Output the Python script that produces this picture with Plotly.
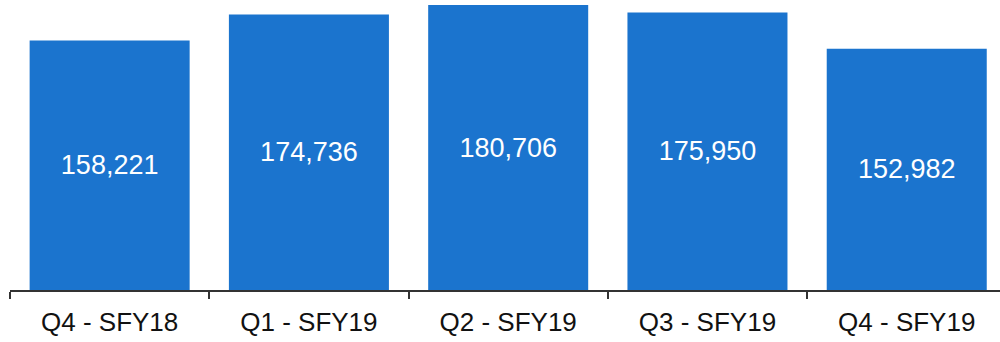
import plotly.graph_objects as go

# ---- data ----
quarters = ['Q4 - SFY18', 'Q1 - SFY19', 'Q2 - SFY19', 'Q3 - SFY19', 'Q4 - SFY19']
counts = [158221, 174736, 180706, 175950, 152982]
count_labels = [f'{v:,}' for v in counts]

BAR_COLOR = '#1b74ce'
FONT = 'Liberation Sans, Arial, sans-serif'

fig = go.Figure(go.Bar(
    x=quarters,
    y=counts,
    text=count_labels,
    textposition='inside',
    insidetextanchor='middle',
    textfont=dict(color='white', size=27, family=FONT),
    marker=dict(color=BAR_COLOR, line=dict(width=0)),
    hoverinfo='x+y',
))

fig.update_layout(
    width=1000, height=342,
    margin=dict(l=10, r=0, t=0, b=52, autoexpand=False),
    paper_bgcolor='white', plot_bgcolor='white',
    bargap=0.197,
    showlegend=False,
    font=dict(family=FONT, color='#111111'),
    uniformtext=dict(minsize=10, mode='show'),
)
fig.update_xaxes(
    type='category',
    range=[-0.5, 4.468],
    showline=True, linecolor='#333333', linewidth=2,
    ticks='outside', tickson='boundaries', ticklen=7, tickcolor='#333333', tickwidth=1.5,
    tickfont=dict(size=26, color='#111111', family=FONT),
    ticklabelstandoff=8,
    showgrid=False, automargin=False,
)
fig.update_yaxes(range=[0, 183900], visible=False, showgrid=False)

# page body margin would shift the chart by 8px
fig.write_html('out.html', config={'displayModeBar': False},
               post_script="document.body.style.margin='0px';")
